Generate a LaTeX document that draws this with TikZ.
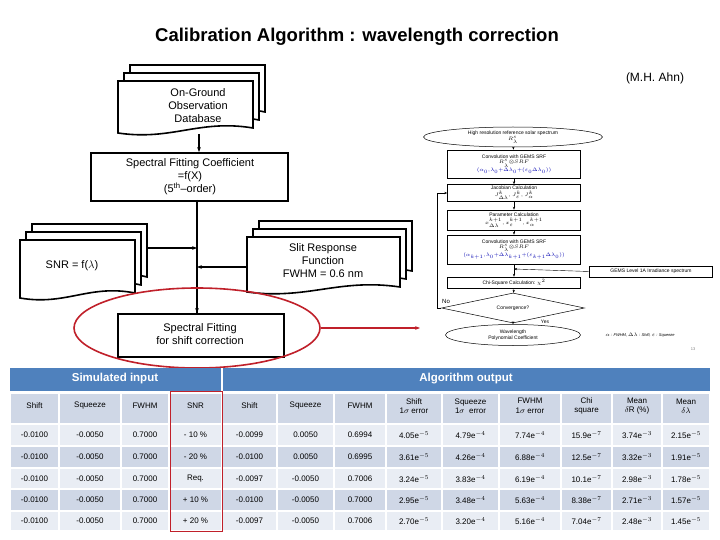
\documentclass[tikz,border=0pt]{standalone}
\usepackage{fontspec}
\setmainfont{Liberation Sans}
\usetikzlibrary{shapes.geometric,arrows.meta,calc}
\definecolor{hdr}{HTML}{4F81BD}
\definecolor{cdark}{HTML}{CFD7E6}
\definecolor{clight}{HTML}{E9EDF4}
\definecolor{redc}{HTML}{C0202A}
\newcommand{\docshp}[4]{\draw[docst] (#1,#2) -- (#3,#2) -- (#3,#4-5) .. controls ({#1+0.6*(#3-#1)},#4-14) and ({#1+0.4*(#3-#1)},#4+8) .. (#1,#4) -- cycle;}
\newcommand{\docstack}[4]{\docshp{#1+12}{#2-16}{#3+12}{#4-16}\docshp{#1+6}{#2-8}{#3+6}{#4-8}\docshp{#1}{#2}{#3}{#4}}
\begin{document}
\begin{tikzpicture}[x=1pt,y=-1pt,
  docst/.style={draw=black,line width=1.6pt,fill=white},
  bx/.style={draw=black,line width=1.6pt,fill=white,inner sep=0},
  lt/.style={font=\fontsize{11}{13}\selectfont,align=center},
  fb/.style={draw=black,line width=0.5pt,fill=white,inner sep=0,font=\fontsize{5}{5.6}\selectfont,align=center},
  arr/.style={-{Stealth[length=5pt]},line width=1.3pt},
  sarr/.style={-{Stealth[length=3pt]},line width=0.4pt},
  cell/.style={inner sep=0,font=\fontsize{8}{9.5}\selectfont,align=center}]
\useasboundingbox[fill=white] (0,0) rectangle (720,540);
\node[font=\bfseries\fontsize{18.5}{20}\selectfont] (title) at (357,37) {Calibration Algorithm : wavelength correction};
\node[font=\fontsize{12}{14}\selectfont] (auth) at (655,78) {(M.H. Ahn)};
% left flow
\docstack{118}{81}{253}{133}
\node[lt] (db) at (198,106) {On-Ground\\Observation\\Database};
\node[bx,minimum width=197,minimum height=48,anchor=north west] (sfc) at (90,152) {};
\node[lt] at (190,177) {Spectral Fitting Coefficient\\=f(X)\\(5$^{\mathrm{th}}$–order)};
\docstack{20}{240}{135}{298}
\node[lt] (snr) at (72,266) {SNR = f($\lambda$)};
\docstack{247}{237}{400}{292}
\node[lt] (slit) at (323,261) {Slit Response\\Function\\FWHM = 0.6 nm};
\node[bx,minimum width=166,minimum height=43,anchor=north west] (sfs) at (117,313) {};
\node[lt] at (200,334) {Spectral Fitting\\for shift correction};
\coordinate (j1) at (197,248);
\coordinate (j2) at (197,267);
\coordinate (dbb) at (199,134);
\draw[arr] (dbb) -- (sfc.north -| dbb);
\draw[line width=1.3pt] (197,200) -- (197,313);
\draw[arr] (197,290) -- (sfs.north -| 197,0);
\draw[arr] (147,248) -- (j1);
\draw[arr] (247,267) -- (j2);
\node[draw=redc,line width=1.6pt,ellipse,minimum width=246,minimum height=80] (ell) at (197,328) {};
\coordinate (rend) at (420,328);
\draw[redc,line width=1.3pt,-{Stealth[length=5pt]}] (ell.east) -- (rend);
% right flowchart
\node[fb,ellipse,minimum width=179,minimum height=20] (hr) at (513,137) {High resolution reference solar spectrum\\$\scriptscriptstyle R_\lambda^{s}$};
\node[fb,minimum width=133,minimum height=28] (c1) at (514,164) {Convolution with GEMS SRF\\$\scriptscriptstyle R_\lambda^{s}\otimes SRF$\\\textcolor{blue!70!black}{$\scriptscriptstyle(\alpha_0,\lambda_0+\Delta\lambda_0+(\varepsilon_0\Delta\lambda_0))$}};
\node[fb,minimum width=133,minimum height=17] (jac) at (514,193) {Jacobian Calculation\\[1.5pt]$\scriptscriptstyle J_{\Delta\lambda}^{k},\, J_\varepsilon^{k},\, J_\alpha^{k}$};
\node[fb,minimum width=133,minimum height=20] (par) at (514,220) {Parameter Calculation\\[1pt]$\scriptscriptstyle x_{\Delta\lambda}^{k+1},\, x_\varepsilon^{k+1},\, x_\alpha^{k+1}$};
\node[fb,minimum width=133,minimum height=29] (c2) at (514,249.5) {Convolution with GEMS SRF\\$\scriptscriptstyle R_\lambda^{s}\otimes SRF$\\\textcolor{blue!70!black}{$\scriptscriptstyle(\alpha_{k+1},\lambda_0+\Delta\lambda_{k+1}+(\varepsilon_{k+1}\Delta\lambda_0))$}};
\node[fb,minimum width=123,minimum height=11] (gems) at (651,271.5) {GEMS Level 1A Irradiance spectrum};
\node[fb,minimum width=133,minimum height=11] (chi) at (514,282.5) {Chi-Square Calculation: $\scriptscriptstyle\chi^2$};
\node[fb,diamond,aspect=4.7,minimum width=143,minimum height=30] (conv) at (513,308) {Convergence?};
\node[fb,ellipse,minimum width=135,minimum height=21] (wl) at (513,335) {Wavelength\\Polynomial Coefficient};
\draw[sarr] (hr) -- (c1);
\draw[sarr] (c1) -- (jac);
\draw[sarr] (jac) -- (par);
\draw[sarr] (par) -- (c2);
\draw[sarr] (c2) -- (chi);
\draw[sarr] (gems.west) -- (514,269);
\draw[sarr] (chi) -- (conv);
\draw[sarr] (conv) -- (wl);
\draw[sarr] (conv.west) -- (437,308) -- (437,193) -- (jac.west);
\node[font=\fontsize{6}{7}\selectfont] (no) at (446,301) {No};
\node[font=\fontsize{5}{6}\selectfont] (yes) at (545,322) {Yes};
\node[font=\itshape\fontsize{4}{5}\selectfont] (fn) at (640,335) {$\alpha$ : FWHM, $\Delta\lambda$ : Shift, $\varepsilon$ : Squeeze};
\node[font=\fontsize{4}{5}\selectfont,text=gray] (pg) at (693,349) {13};
% table
\fill[hdr] (10,368) rectangle (710,391);
\fill[white] (220.5,368) rectangle (222.5,391);
\node[font=\bfseries\fontsize{11.5}{13}\selectfont,text=white] (si) at (115,379) {Simulated input};
\node[font=\bfseries\fontsize{11.5}{13}\selectfont,text=white] (ao) at (466,379) {Algorithm output};
\def\xs{{10,59,121,169,222,277,334,386,442,499,561,612,662,710}}
\def\ys{{393,424,446,468,489,511,531}}
\foreach \r in {0,...,5}{
 \pgfmathsetmacro{\yt}{\ys[\r]+1}
 \pgfmathsetmacro{\yb}{\ys[\r+1]-1}
 \pgfmathsetmacro{\cc}{int(mod(\r,2))}
 \foreach \c in {0,...,12}{
  \pgfmathsetmacro{\xl}{\xs[\c]+1}
  \pgfmathsetmacro{\xr}{\xs[\c+1]-1}
  \ifnum\cc=0 \fill[cdark] (\xl,\yt) rectangle (\xr,\yb);
  \else \fill[clight] (\xl,\yt) rectangle (\xr,\yb); \fi
 }}
\def\cellrow#1#2{\foreach \t [count=\c from 0] in {#2}{
 \pgfmathsetmacro{\xa}{\xs[\c]}
 \pgfmathsetmacro{\xb}{\xs[\c+1]}
 \pgfmathsetmacro{\xm}{(\xa+\xb)/2}
 \node[cell] at (\xm,#1) {\t};}}
\cellrow{406}{Shift,Squeeze,FWHM,SNR,Shift,Squeeze,FWHM,{Shift\\1$\sigma$ error},{Squeeze\\1$\sigma$ \ error},{FWHM\\1$\sigma$ error},{Chi\\square},{Mean\\$\delta$R (\%)},{Mean\\$\delta\lambda$}}
\cellrow{435}{-0.0100,-0.0050,0.7000,- 10 \%,-0.0099,0.0050,0.6994,4.05e$^{-5}$,4.79e$^{-4}$,7.74e$^{-4}$,15.9e$^{-7}$,3.74e$^{-3}$,2.15e$^{-5}$}
\cellrow{457}{-0.0100,-0.0050,0.7000,- 20 \%,-0.0100,0.0050,0.6995,3.61e$^{-5}$,4.26e$^{-4}$,6.88e$^{-4}$,12.5e$^{-7}$,3.32e$^{-3}$,1.91e$^{-5}$}
\cellrow{479}{-0.0100,-0.0050,0.7000,Req.,-0.0097,-0.0050,0.7006,3.24e$^{-5}$,3.83e$^{-4}$,6.19e$^{-4}$,10.1e$^{-7}$,2.98e$^{-3}$,1.78e$^{-5}$}
\cellrow{500}{-0.0100,-0.0050,0.7000,+ 10 \%,-0.0100,-0.0050,0.7000,2.95e$^{-5}$,3.48e$^{-4}$,5.63e$^{-4}$,8.38e$^{-7}$,2.71e$^{-3}$,1.57e$^{-5}$}
\cellrow{521}{-0.0100,-0.0050,0.7000,+ 20 \%,-0.0097,-0.0050,0.7006,2.70e$^{-5}$,3.20e$^{-4}$,5.16e$^{-4}$,7.04e$^{-7}$,2.48e$^{-3}$,1.45e$^{-5}$}
\node[draw=redc,line width=1pt,minimum width=52,minimum height=140,inner sep=0] (snrbox) at (196,461) {};
\end{tikzpicture}
\end{document}
